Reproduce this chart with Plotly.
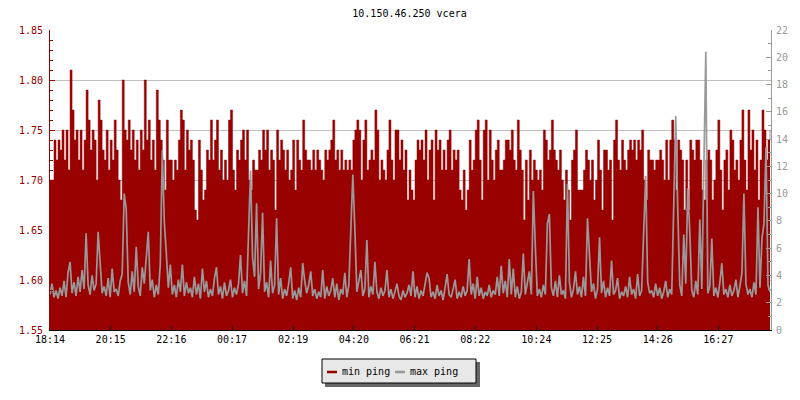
import plotly.graph_objects as go
import pandas as pd

chart_title = "10.150.46.250 vcera"
start_time = "2024-05-01 18:14"
step_minutes = 4
series_names = ["min ping", "max ping"]

min_ping = [
    1.70,1.70,1.74,1.72,1.74,1.73,1.75,1.72,1.75,1.71,
    1.81,1.77,1.74,1.75,1.72,1.75,1.71,1.74,1.79,1.76,
    1.73,1.75,1.74,1.70,1.78,1.76,1.73,1.72,1.75,1.71,
    1.74,1.72,1.76,1.73,1.70,1.68,1.80,1.75,1.74,1.76,
    1.73,1.75,1.72,1.74,1.71,1.75,1.73,1.80,1.74,1.76,
    1.72,1.74,1.71,1.79,1.76,1.74,1.72,1.69,1.76,1.72,
    1.72,1.70,1.72,1.71,1.74,1.77,1.76,1.71,1.75,1.73,
    1.74,1.72,1.67,1.66,1.74,1.71,1.68,1.69,1.73,1.72,
    1.76,1.72,1.74,1.76,1.71,1.73,1.70,1.72,1.70,1.76,
    1.77,1.71,1.69,1.73,1.72,1.74,1.75,1.72,1.75,1.70,
    1.69,1.72,1.71,1.71,1.73,1.72,1.75,1.73,1.75,1.71,
    1.73,1.72,1.67,1.75,1.72,1.74,1.73,1.71,1.73,1.70,
    1.71,1.74,1.69,1.74,1.72,1.71,1.76,1.73,1.72,1.72,
    1.71,1.73,1.71,1.73,1.72,1.71,1.70,1.73,1.72,1.73,
    1.74,1.76,1.72,1.73,1.71,1.73,1.71,1.72,1.71,1.72,
    1.71,1.74,1.75,1.76,1.75,1.70,1.74,1.76,1.71,1.72,
    1.73,1.72,1.77,1.75,1.70,1.72,1.71,1.70,1.73,1.76,
    1.72,1.70,1.75,1.75,1.72,1.74,1.71,1.73,1.68,1.71,
    1.69,1.68,1.72,1.74,1.73,1.74,1.72,1.75,1.70,1.73,
    1.74,1.68,1.75,1.73,1.74,1.71,1.73,1.71,1.74,1.75,
    1.71,1.73,1.72,1.73,1.69,1.68,1.71,1.67,1.69,1.74,
    1.71,1.72,1.75,1.76,1.72,1.68,1.75,1.76,1.70,1.75,
    1.72,1.70,1.73,1.74,1.71,1.71,1.72,1.74,1.74,1.73,
    1.75,1.72,1.71,1.76,1.73,1.71,1.66,1.72,1.68,1.73,
    1.70,1.72,1.71,1.70,1.71,1.69,1.75,1.74,1.72,1.73,
    1.76,1.73,1.72,1.71,1.73,1.70,1.68,1.71,1.69,1.66,
    1.72,1.73,1.75,1.69,1.69,1.69,1.71,1.73,1.72,1.70,
    1.72,1.68,1.70,1.74,1.71,1.67,1.73,1.73,1.71,1.72,
    1.66,1.74,1.76,1.72,1.71,1.74,1.72,1.71,1.73,1.74,
    1.73,1.74,1.72,1.74,1.73,1.75,1.70,1.68,1.73,1.72,
    1.72,1.71,1.72,1.72,1.73,1.72,1.70,1.74,1.70,1.74,
    1.76,1.74,1.69,1.74,1.73,1.72,1.67,1.72,1.67,1.74,
    1.73,1.72,1.74,1.74,1.72,1.69,1.68,1.72,1.73,1.72,
    1.68,1.70,1.73,1.76,1.71,1.67,1.72,1.73,1.69,1.75,
    1.74,1.71,1.72,1.70,1.74,1.77,1.72,1.69,1.77,1.73,
    1.75,1.71,1.74,1.68,1.72,1.77,1.75,1.72,1.74,1.75,
]

max_ping = [
    2.6,3.4,2.4,2.9,2.3,3.1,2.5,3.6,2.4,4.2,
    5.0,2.7,3.5,2.5,3.9,2.8,4.4,3.0,7.1,3.3,
    2.6,4.0,2.9,3.4,7.2,4.6,2.7,3.2,2.5,3.8,
    2.4,4.5,2.8,3.0,2.5,3.6,4.1,10.0,8.9,3.5,
    2.6,4.3,2.8,6.1,3.2,2.5,4.6,3.4,5.1,7.2,
    2.9,3.7,2.4,3.3,2.6,4.9,13.2,7.9,5.6,3.1,
    4.8,2.6,3.3,2.4,3.7,2.8,4.8,2.5,3.5,2.7,
    3.1,2.4,3.9,2.6,3.4,2.3,4.5,2.8,3.6,2.4,
    3.0,2.5,3.8,4.6,2.6,3.2,2.3,3.5,2.5,2.9,
    3.7,2.4,3.1,2.6,3.4,5.5,2.7,3.6,2.5,7.1,
    11.7,5.3,3.9,9.3,3.0,4.2,8.6,2.8,3.5,2.4,
    5.1,2.7,3.3,8.2,2.6,3.8,2.3,3.0,2.5,3.4,
    4.6,2.3,2.9,2.2,3.1,2.4,4.9,3.6,2.7,3.3,
    4.3,2.5,3.0,2.3,2.8,2.4,4.4,2.3,3.2,2.5,
    2.9,3.8,2.4,3.4,2.2,3.0,2.6,4.2,2.4,3.3,
    6.9,11.4,7.4,2.8,3.6,4.4,2.5,3.0,6.6,2.4,
    3.2,2.6,5.0,2.8,2.3,3.1,2.5,2.9,4.4,2.4,
    3.0,2.3,2.8,3.4,2.5,2.2,2.9,2.4,2.7,3.3,
    2.5,4.3,2.4,3.2,2.3,2.9,2.5,3.5,4.2,3.8,
    2.4,2.8,2.3,3.3,2.5,2.9,2.2,3.1,4.1,2.6,
    2.4,3.0,3.7,2.3,2.8,2.4,3.2,2.5,2.9,5.2,
    2.6,3.4,2.3,3.9,2.5,3.1,2.3,2.8,2.5,3.3,
    2.4,2.9,2.6,3.9,2.5,4.7,2.7,3.6,2.4,5.2,
    2.6,4.5,2.4,3.2,2.3,2.8,5.6,2.6,3.4,4.3,
    2.6,10.2,6.1,2.5,3.0,2.4,3.3,2.6,7.8,8.5,
    3.1,2.5,3.6,2.4,4.0,2.6,2.9,2.3,10.7,3.5,
    2.4,3.0,4.3,2.6,3.2,2.4,3.9,2.5,8.2,5.2,
    2.8,3.4,2.3,3.0,6.8,2.7,3.6,2.4,3.1,2.5,
    5.1,2.6,2.9,3.8,2.3,2.8,2.5,3.2,2.4,3.9,
    2.6,3.0,2.3,4.1,2.5,2.9,6.8,11.3,3.5,2.7,
    2.9,2.4,3.4,2.5,3.1,2.3,2.8,3.6,2.4,3.0,
    2.6,10.2,15.7,8.9,3.3,2.5,7.0,3.4,10.4,7.2,
    2.9,2.4,3.6,2.6,8.1,3.0,11.5,20.4,2.7,3.2,
    6.7,2.5,3.1,2.4,3.5,4.9,2.6,3.0,2.4,3.3,
    2.5,2.9,3.7,2.4,3.2,4.2,10.0,3.4,2.6,3.0,
    2.4,3.5,2.6,9.0,3.1,6.7,7.8,13.4,3.3,2.8,
]

tick_labels = ["18:14", "20:15", "22:16", "00:17", "02:19", "04:20",
               "06:21", "08:22", "10:24", "12:25", "14:26", "16:27"]

RED = "#990000"
GRAY = "#999999"
FONT = "DejaVu Sans Mono"

t0 = pd.Timestamp(start_time)
times = pd.date_range(t0, periods=len(min_ping), freq=f"{step_minutes}min")
tick_vals = []
for lbl in tick_labels:
    t = pd.Timestamp(t0.strftime("%Y-%m-%d") + " " + lbl)
    if t < t0:
        t += pd.Timedelta(days=1)
    tick_vals.append(t)

fig = go.Figure()
fig.add_trace(go.Scatter(
    x=times, y=min_ping, name=series_names[0], mode="lines",
    line=dict(color=RED, width=0.5, shape="hv"),
    fill="tozeroy", fillcolor=RED, yaxis="y", showlegend=False,
))
fig.add_trace(go.Scatter(
    x=times, y=max_ping, name=series_names[1], mode="lines",
    line=dict(color=GRAY, width=1.7, shape="linear"),
    yaxis="y2", showlegend=False,
))

# plot area in pixels
L, R, T, B = 50, 771, 30, 330
W, H = 800, 400

def px(xp):
    return (xp - L) / (R - L)

def py(yp):
    return (B - yp) / (B - T)

shapes = [
    dict(type="rect", xref="paper", yref="paper", x0=px(325), x1=px(480), y0=py(387), y1=py(362),
         fillcolor="#666666", line=dict(width=0), layer="above"),
    dict(type="rect", xref="paper", yref="paper", x0=px(322), x1=px(476), y0=py(383), y1=py(359),
         fillcolor="#e8e8e8", line=dict(color="black", width=1), layer="above"),
    dict(type="line", xref="paper", yref="paper", x0=px(327), x1=px(337), y0=py(372), y1=py(372),
         line=dict(color=RED, width=2.5), layer="above"),
    dict(type="line", xref="paper", yref="paper", x0=px(395), x1=px(405), y0=py(372), y1=py(372),
         line=dict(color=GRAY, width=2.5), layer="above"),
]
annotations = [
    dict(text=series_names[0], xref="paper", yref="paper", x=px(340), y=py(371.5),
         xanchor="left", yanchor="middle", showarrow=False,
         font=dict(family=FONT, size=10, color="black")),
    dict(text=series_names[1], xref="paper", yref="paper", x=px(408), y=py(371.5),
         xanchor="left", yanchor="middle", showarrow=False,
         font=dict(family=FONT, size=10, color="black")),
]

fig.update_layout(
    width=W, height=H,
    margin=dict(l=L, r=W - R, t=T, b=H - B),
    paper_bgcolor="white", plot_bgcolor="white",
    font=dict(family=FONT, size=10, color="black"),
    title=dict(text=chart_title, x=px(409.5), xref="paper", xanchor="center",
               y=1 - 13 / H, yref="container", yanchor="middle",
               font=dict(family=FONT, size=10, color="black")),
    showlegend=False,
    shapes=shapes,
    annotations=annotations,
    xaxis=dict(
        type="date",
        range=[t0, t0 + pd.Timedelta(minutes=1438)],
        tickvals=tick_vals, ticktext=tick_labels,
        ticks="inside", ticklen=4, tickcolor="black",
        showline=True, linecolor="black", linewidth=1,
        showgrid=False, zeroline=False,
        tickfont=dict(family=FONT, size=10, color="black"),
    ),
    yaxis=dict(
        range=[1.55, 1.85], dtick=0.05, tick0=1.55, tickformat=".2f",
        ticks="inside", ticklen=5, tickcolor=RED,
        showline=True, linecolor=RED, linewidth=1,
        showgrid=True, gridcolor="#c0c0c0", gridwidth=1, zeroline=False,
        tickfont=dict(family=FONT, size=10, color=RED),
        ticklabelstandoff=4,
        minor=dict(dtick=0.01, tick0=1.55, ticks="inside", ticklen=3,
                   tickcolor=RED, showgrid=False),
    ),
    yaxis2=dict(
        overlaying="y", side="right",
        range=[0, 22], dtick=2, tick0=0,
        ticks="inside", ticklen=5, tickcolor=GRAY,
        showline=True, linecolor=GRAY, linewidth=1,
        showgrid=False, zeroline=False,
        tickfont=dict(family=FONT, size=10, color=GRAY),
        ticklabelstandoff=2,
        minor=dict(dtick=1, tick0=0, ticks="inside", ticklen=3,
                   tickcolor=GRAY, showgrid=False),
    ),
)

fig.write_html("out.html", config={"displayModeBar": False},
               post_script="document.body.style.margin='0';")
